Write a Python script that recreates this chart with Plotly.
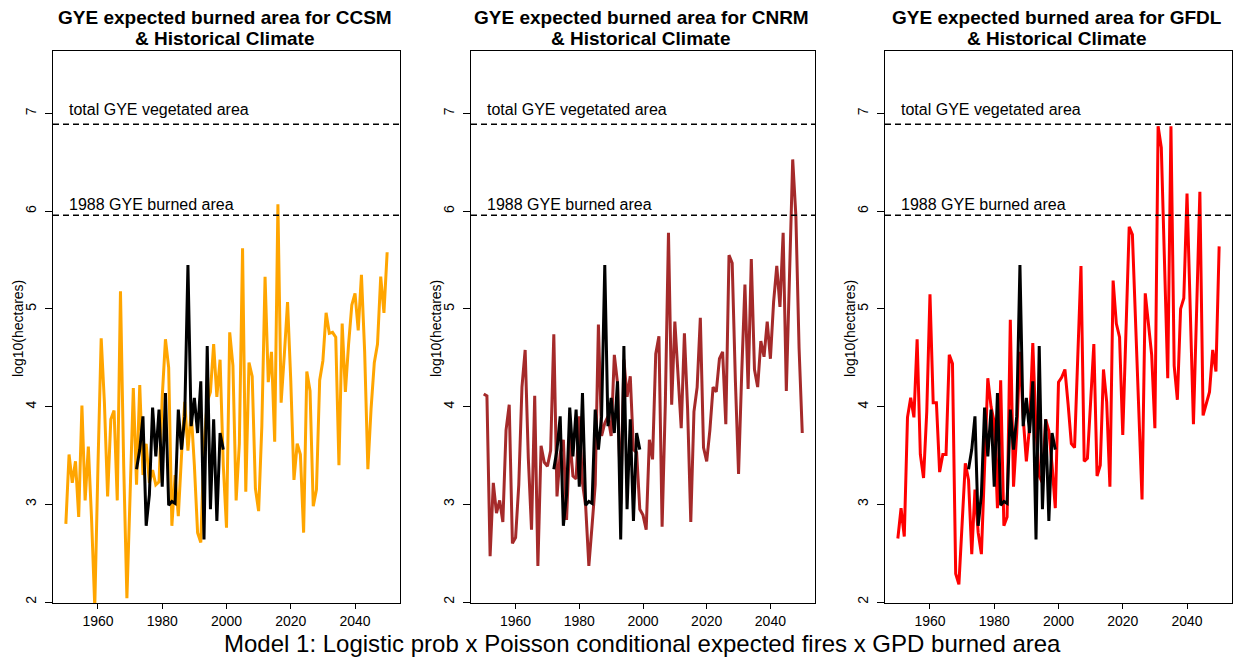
import plotly.graph_objects as go

years = list(range(1950, 2051))

ccsm = [2.80, 3.51, 3.22, 3.44, 2.87, 4.01, 3.04, 3.59, 2.85, 1.95,
        3.40, 4.70, 4.04, 3.08, 3.87, 3.96, 3.04, 5.18, 3.40, 2.04,
        3.10, 4.19, 3.20, 4.22, 3.30, 3.62, 3.22, 3.35, 3.20, 3.23,
        4.10, 4.69, 4.40, 2.78, 3.30, 2.88, 3.50, 4.05, 3.55, 3.95,
        3.40, 2.71, 2.61, 3.60, 4.05, 4.15, 4.64, 4.10, 4.48, 3.40,
        2.76, 4.76, 4.42, 3.04, 3.62, 5.62, 3.13, 4.45, 4.31, 3.16,
        2.93, 3.80, 5.33, 4.25, 4.56, 3.64, 6.07, 4.04, 4.53, 5.07,
        4.27, 3.25, 3.62, 3.51, 2.71, 4.36, 4.16, 2.98, 3.15, 4.27,
        4.47, 4.96, 4.75, 4.76, 4.71, 3.40, 4.85, 4.15, 4.64, 5.04,
        5.16, 4.78, 5.35, 4.56, 3.36, 3.98, 4.45, 4.64, 5.33, 4.96,
        5.58]

cnrm = [4.13, 4.11, 2.47, 3.22, 2.91, 3.04, 2.82, 3.76, 4.02, 2.60,
        2.66, 3.20, 4.20, 4.58, 3.47, 2.74, 4.11, 2.37, 3.60, 3.43,
        3.39, 3.55, 4.74, 3.08, 3.52, 3.66, 2.84, 3.69, 3.29, 3.26,
        3.90, 3.22, 2.98, 2.37, 2.78, 3.20, 4.84, 3.70, 3.83, 3.90,
        3.70, 4.53, 4.24, 3.00, 4.48, 4.10, 4.31, 3.56, 3.53, 2.95,
        2.89, 2.74, 3.66, 3.46, 4.54, 4.72, 2.77, 4.02, 5.78, 4.02,
        4.87, 4.35, 3.78, 4.75, 3.98, 2.82, 3.95, 4.20, 4.91, 3.58,
        3.44, 3.76, 4.20, 4.15, 4.49, 4.56, 3.82, 5.55, 5.47, 4.27,
        3.31, 4.35, 5.25, 4.18, 5.51, 4.38, 4.20, 4.67, 4.51, 4.87,
        4.49, 5.07, 5.44, 5.02, 5.78, 4.16, 5.40, 6.53, 5.95, 4.60,
        3.73]

gfdl = [2.65, 2.96, 2.67, 3.89, 4.09, 3.89, 4.69, 3.51, 3.27, 3.95,
        5.15, 4.04, 4.04, 3.33, 3.51, 3.51, 4.53, 4.44, 2.29, 2.18,
        2.80, 3.42, 3.25, 2.49, 3.15, 2.71, 2.49, 3.40, 4.29, 4.00,
        3.84, 2.96, 4.27, 2.78, 2.87, 4.89, 3.18, 3.73, 4.56, 3.89,
        3.44, 3.80, 4.65, 3.76, 3.29, 3.22, 3.87, 3.75, 3.40, 2.96,
        4.25, 4.30, 4.38, 4.02, 3.62, 3.58, 4.50, 5.44, 3.44, 3.47,
        4.05, 4.64, 3.29, 3.40, 4.38, 4.05, 3.18, 5.29, 4.85, 4.71,
        3.71, 4.80, 5.84, 5.76, 4.85, 3.90, 3.05, 5.16, 4.85, 4.53,
        3.78, 6.87, 6.65, 5.50, 4.29, 6.87, 4.42, 4.07, 5.00, 5.11,
        6.18, 5.00, 3.82, 5.00, 6.20, 3.91, 4.02, 4.15, 4.58, 4.36,
        5.64]

hist_years = list(range(1972, 2000))
hist = [3.36, 3.56, 3.90, 2.78, 3.10, 3.99, 3.49, 3.97, 3.18, 4.14,
        2.99, 3.03, 3.01, 3.97, 3.56, 3.90, 5.45, 3.80, 4.09, 3.73,
        4.26, 2.64, 4.62, 2.95, 3.87, 2.83, 3.73, 3.56]

models = ["CCSM", "CNRM", "GFDL"]
series = [ccsm, cnrm, gfdl]
colors = ["#FFA500", "#A52A2A", "#FF0000"]

total_veg = 6.89
burn_1988 = 5.96
ref_labels = ["total GYE vegetated area", "1988 GYE burned area"]
ref_label_y = [7.04, 6.07]

xticks = [1960, 1980, 2000, 2020, 2040]
yticks = [2, 3, 4, 5, 6, 7]

W, H = 1241, 657
panels_px = [(53, 400), (471, 815), (885, 1232)]
top_px, bot_px = 51, 603
FONT = "Liberation Sans, Arial, Helvetica, sans-serif"

fig = go.Figure()
annotations = []
shapes = []

for i, (m, vals, col) in enumerate(zip(models, series, colors)):
    xa = "x" if i == 0 else f"x{i+1}"
    ya = "y" if i == 0 else f"y{i+1}"
    fig.add_trace(go.Scatter(x=years, y=vals, mode="lines",
                             line=dict(color=col, width=3),
                             xaxis=xa, yaxis=ya, showlegend=False))
    fig.add_trace(go.Scatter(x=hist_years, y=hist, mode="lines",
                             line=dict(color="black", width=3),
                             xaxis=xa, yaxis=ya, showlegend=False))
    for lv in [total_veg, burn_1988]:
        shapes.append(dict(type="line", xref=f"{xa} domain", yref=ya,
                           x0=0, x1=1, y0=lv, y1=lv,
                           line=dict(color="black", width=1.5, dash="6px,4px")))
    for lab, ly in zip(ref_labels, ref_label_y):
        annotations.append(dict(text=lab, xref=xa, yref=ya, x=1950.3, y=ly,
                                xanchor="left", yanchor="middle", showarrow=False,
                                font=dict(family=FONT, size=16, color="black")))
    l, r = panels_px[i]
    dom = [l / W, r / W]
    axcommon = dict(showline=True, linecolor="black", linewidth=1, mirror=True,
                    ticks="outside", tickcolor="black", showgrid=False,
                    zeroline=False, tickfont=dict(family=FONT, size=14, color="black"))
    fig.update_layout(**{
        ("xaxis" if i == 0 else f"xaxis{i+1}"): dict(
            domain=dom, range=[1946, 2054], tickvals=xticks, anchor=ya,
            ticklen=5, **axcommon),
        ("yaxis" if i == 0 else f"yaxis{i+1}"): dict(
            domain=[1 - bot_px / H, 1 - top_px / H], range=[1.99, 7.64],
            tickvals=yticks, tickangle=-90, anchor=xa, ticklabelstandoff=3,
            ticklen=7, **axcommon),
    })
    cx = (l + r) / 2 / W - 2 / W
    annotations.append(dict(text=f"<b>GYE expected burned area for {m}</b>",
                            xref="paper", yref="paper", x=cx, y=1 - 17 / H,
                            xanchor="center", yanchor="middle", showarrow=False,
                            font=dict(family=FONT, size=19, color="black")))
    annotations.append(dict(text="<b>& Historical Climate</b>",
                            xref="paper", yref="paper", x=cx, y=1 - 39 / H,
                            xanchor="center", yanchor="middle", showarrow=False,
                            font=dict(family=FONT, size=19, color="black")))
    annotations.append(dict(text="log10(hectares)", xref="paper", yref="paper",
                            x=(l - 35) / W, y=1 - 329 / H, textangle=-90,
                            xanchor="center", yanchor="middle", showarrow=False,
                            font=dict(family=FONT, size=14, color="black")))

annotations.append(dict(text="Model 1: Logistic prob x Poisson conditional expected fires x GPD burned area",
                        xref="paper", yref="paper", x=642 / W, y=1 - 643 / H,
                        xanchor="center", yanchor="middle", showarrow=False,
                        font=dict(family=FONT, size=24, color="black")))

fig.update_layout(width=W, height=H, margin=dict(l=0, r=0, t=0, b=0),
                  plot_bgcolor="white", paper_bgcolor="white",
                  annotations=annotations, shapes=shapes)

fig.write_html("out.html")
